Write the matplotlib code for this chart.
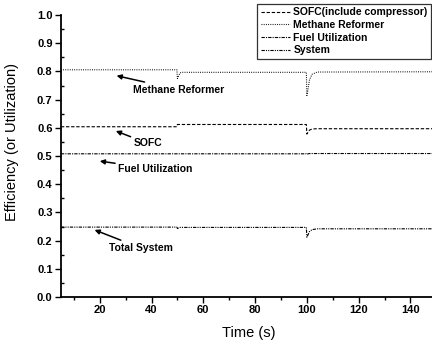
import matplotlib
matplotlib.use("Agg")
import matplotlib.pyplot as plt
from matplotlib.ticker import MultipleLocator

plt.rcParams['font.family'] = ['Liberation Sans', 'DejaVu Sans']
plt.rcParams['font.weight'] = 'bold'

# time samples (s)
time = [5, 49.8, 50, 50.5, 51, 52, 99.8, 100, 100.5, 101, 102, 104, 150]
sofc = [0.604, 0.604, 0.612, 0.612, 0.612, 0.612, 0.612, 0.578, 0.585, 0.592, 0.596, 0.597, 0.597]
reformer = [0.806, 0.806, 0.775, 0.785, 0.795, 0.797, 0.797, 0.715, 0.74, 0.77, 0.79, 0.798, 0.799]
fuel_util = [0.508, 0.508, 0.508, 0.508, 0.508, 0.508, 0.508, 0.506, 0.508, 0.509, 0.509, 0.509, 0.509]
system = [0.248, 0.248, 0.243, 0.245, 0.247, 0.247, 0.247, 0.212, 0.222, 0.232, 0.239, 0.242, 0.242]

names = ['SOFC(include compressor)', 'Methane Reformer', 'Fuel Utilization', 'System']

fig = plt.figure(figsize=(4.32, 3.43), dpi=100)
ax = fig.add_axes([0.141, 0.134, 0.86, 0.822])

ax.plot(time, sofc, color='black', lw=0.8, dashes=(3, 1.6), label=names[0])
ax.plot(time, reformer, color='black', lw=0.8, dashes=(0.8, 1.2), label=names[1])
ax.plot(time, fuel_util, color='black', lw=0.8, dashes=(3, 1, 1, 1), label=names[2])
ax.plot(time, system, color='black', lw=0.8, dashes=(3, 1, 1, 1, 1, 1), label=names[3])

ax.set_xlim(5, 148.5)
ax.set_ylim(0, 1.0)
ax.xaxis.set_major_locator(MultipleLocator(20))
ax.xaxis.set_minor_locator(MultipleLocator(10))
ax.yaxis.set_major_locator(MultipleLocator(0.1))
ax.yaxis.set_minor_locator(MultipleLocator(0.05))
ax.tick_params(axis='both', which='major', labelsize=8, length=4, width=1, direction='out', pad=2)
ax.tick_params(axis='x', which='minor', length=2.5, width=1, direction='out')
ax.tick_params(axis='y', which='minor', length=2.5, width=1, direction='in')
for lab in ax.get_xticklabels() + ax.get_yticklabels():
    lab.set_fontweight('bold')

ax.spines['top'].set_visible(False)
ax.spines['right'].set_visible(False)
ax.spines['left'].set_linewidth(1.3)
ax.spines['bottom'].set_linewidth(1.3)

ax.set_xlabel('Time (s)', fontsize=10.5, fontweight='normal')
ax.xaxis.set_label_coords(0.505, -0.104)
ax.set_ylabel('Efficiency (or Utilization)', fontsize=10.5, fontweight='normal')
ax.yaxis.set_label_coords(-0.113, 0.55)

arrow = dict(arrowstyle='-|>', color='black', lw=1.1, mutation_scale=7, shrinkA=0, shrinkB=0)
ax.annotate('Methane Reformer', xy=(26.5, 0.785), xytext=(33, 0.735),
            fontsize=7.5, fontweight='bold', va='center', arrowprops=arrow)
ax.annotate('SOFC', xy=(26.2, 0.589), xytext=(33, 0.545),
            fontsize=7.5, fontweight='bold', va='center', arrowprops=arrow)
ax.annotate('Fuel Utilization', xy=(20, 0.482), xytext=(27, 0.455),
            fontsize=7.5, fontweight='bold', va='center', arrowprops=arrow)
ax.annotate('Total System', xy=(18, 0.238), xytext=(23.5, 0.174),
            fontsize=7.5, fontweight='bold', va='center', arrowprops=arrow)

leg = ax.legend(loc='upper right', bbox_to_anchor=(0.997, 1.04), fontsize=7.5, frameon=True,
                fancybox=False, edgecolor='black', handlelength=2.8, handletextpad=0.3,
                labelspacing=0.25, borderpad=0.35, borderaxespad=0)
leg.get_frame().set_linewidth(0.9)
for t in leg.get_texts():
    t.set_fontweight('bold')

fig.savefig('out.png', dpi=100)
